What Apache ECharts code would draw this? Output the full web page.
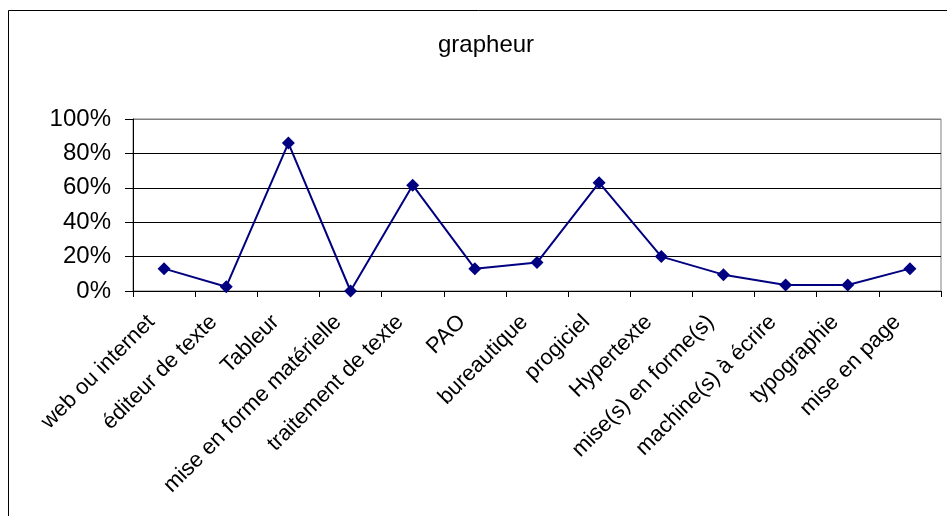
<!DOCTYPE html>
<html>
<head>
<meta charset="utf-8">
<script src="https://cdn.jsdelivr.net/npm/echarts@6/dist/echarts.min.js"></script>
<style>
  html, body { margin: 0; padding: 0; background: #fff; }
  #chart { width: 947px; height: 516px; }
</style>
</head>
<body>
<div id="chart"></div>
<script>
// Categories of the survey and the share (%) of answers for each
const categories = [
  'web ou internet', 'éditeur de texte', 'Tableur', 'mise en forme matérielle',
  'traitement de texte', 'PAO', 'bureautique', 'progiciel', 'Hypertexte',
  'mise(s) en forme(s)', 'machine(s) à écrire', 'typographie', 'mise en page'
];
const shares = [13, 2.5, 86, 0, 61.5, 13, 16.5, 63, 20, 9.5, 3.5, 3.5, 13];
const titleText = 'grapheur';

const FONT = "'Liberation Sans', Arial, sans-serif";
const chart = echarts.init(document.getElementById('chart'), null, { renderer: 'canvas' });

chart.setOption({
  backgroundColor: '#ffffff',
  animation: false,
  textStyle: { fontFamily: FONT },
  title: {
    text: titleText,
    left: 433,
    top: 28,
    textStyle: { fontFamily: FONT, fontSize: 24, fontWeight: 'normal', color: '#000' }
  },
  graphic: [{
    type: 'rect',
    shape: { x: 8.5, y: 10.5, width: 1200, height: 1200 },
    style: { fill: 'none', stroke: '#000', lineWidth: 1 },
    silent: true,
    z: -10
  }],
  grid: {
    left: 133, right: 6, top: 119, bottom: 225,
    show: true, borderColor: '#808080', borderWidth: 1,
    backgroundColor: 'transparent'
  },
  xAxis: {
    type: 'category',
    data: categories,
    boundaryGap: true,
    axisLine: { lineStyle: { color: '#000', width: 1 } },
    axisTick: { show: true, interval: 0, length: 6, lineStyle: { color: '#000' } },
    axisLabel: {
      interval: 0, rotate: 45, margin: 15,
      padding: [0, 18, 0, 0],
      fontFamily: FONT, fontSize: 22, color: '#000'
    },
    splitLine: { show: false }
  },
  yAxis: {
    type: 'value',
    min: 0, max: 100, interval: 20,
    axisLine: { show: true, lineStyle: { color: '#000', width: 1 } },
    axisTick: { show: true, length: 8, lineStyle: { color: '#000' } },
    axisLabel: {
      formatter: '{value}%', margin: 22,
      fontFamily: FONT, fontSize: 24, color: '#000'
    },
    splitLine: {
      show: true,
      lineStyle: { color: ['#000', '#000', '#000', '#000', '#000', '#808080'], width: 1 }
    }
  },
  series: [{
    type: 'line',
    data: shares,
    symbol: 'diamond',
    symbolSize: 13,
    showAllSymbol: true,
    lineStyle: { color: '#000080', width: 2 },
    itemStyle: { color: '#000080' }
  }]
});
</script>
</body>
</html>
